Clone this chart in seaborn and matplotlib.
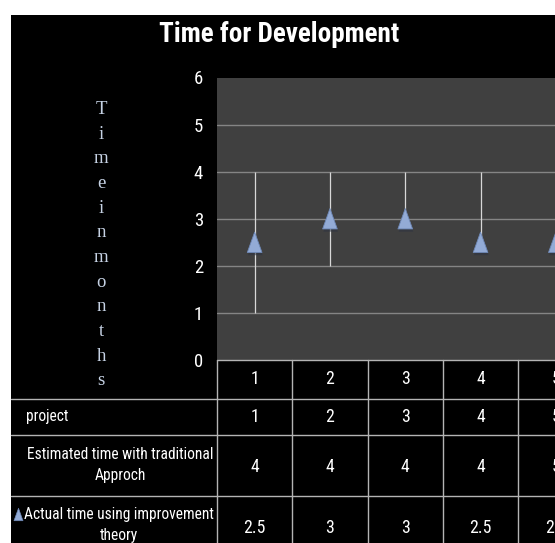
import numpy as np
import pandas as pd
import matplotlib
matplotlib.use("Agg")
import matplotlib.pyplot as plt
import matplotlib.patheffects as pe
from matplotlib import font_manager
from matplotlib.path import Path
from matplotlib.patches import Rectangle
from matplotlib.transforms import blended_transform_factory
import seaborn as sns

# ---- data ----
projects = [1, 2, 3, 4, 5]
estimated = [4, 4, 4, 4, 5]
actual = [2.5, 3, 3, 2.5, 2.5]
row_labels = ["project",
              "Estimated time with traditional\nApproch",
              "Actual time using improvement\ntheory"]
y_ticks = [0, 1, 2, 3, 4, 5, 6]
title = "Time for Development"
y_label = "Timeinmonths"

df = pd.DataFrame({"project": projects, "estimated": estimated, "actual": actual})
# high-low span across every series at each project
df["low"] = df[["project", "estimated", "actual"]].min(axis=1)
df["high"] = df[["project", "estimated", "actual"]].max(axis=1)

installed = {f.name for f in font_manager.fontManager.ttflist}
narrow = [n for n in ["Liberation Sans Narrow", "Roboto Condensed", "Open Sans Condensed",
                      "Noto Sans Condensed", "Liberation Sans"] if n in installed][:1]
FONT = narrow + ["DejaVu Sans"]

sns.set_style("dark")
plt.rcParams["font.family"] = FONT

W, H = 555, 543
fig = plt.figure(figsize=(W / 100, H / 100), dpi=100, facecolor="white")
fig.patches.append(Rectangle((11 / W, 0), 1, (H - 15) / H, transform=fig.transFigure,
                             facecolor="black", edgecolor="none", zorder=-5))

# plot area (wider than the canvas; last project sits on the right edge)
left_px, right_px, top_px, bottom_px = 217, 593.5, 77.5, 360
ax = fig.add_axes([left_px / W, (H - bottom_px) / H,
                   (right_px - left_px) / W, (bottom_px - top_px) / H])
ax.set_zorder(1)
ax.set_facecolor("#404040")
ax.set_xlim(0.5, 5.5)
ax.set_ylim(0, 6)
ax.set_yticks(y_ticks)
ax.set_yticklabels([str(t) for t in y_ticks], color="white", fontsize=13.5)
ax.tick_params(axis="y", length=0, pad=10)
ax.set_xticks([])
ax.grid(False)
for y in y_ticks[1:-1]:
    ax.axhline(y, color="#858585", lw=1.0, zorder=1)
for s in ax.spines.values():
    s.set_visible(False)

ax.vlines(df["project"], df["low"], df["high"], color="#d8d8d8", lw=0.9, zorder=2)

tri = Path([(-0.36, -0.5), (0.36, -0.5), (0.0, 0.5), (-0.36, -0.5)],
           [Path.MOVETO, Path.LINETO, Path.LINETO, Path.CLOSEPOLY])
sns.scatterplot(data=df, x="project", y="actual", marker=tri, s=215,
                color="#93abd6", edgecolor="#6f89b8", linewidth=0.6, ax=ax, zorder=3,
                legend=False)
for coll in ax.collections[1:]:
    coll.set_path_effects([pe.SimplePatchShadow(offset=(0.5, -2), alpha=0.55),
                           pe.Normal()])
ax.set_xlabel("")
ax.set_ylabel("")

# ---- data table beneath the plot ----
ax_h = bottom_px - top_px
rows_px = [0, 39, 75, 136, 200]
ry = [-r / ax_h for r in rows_px]
tr = blended_transform_factory(ax.transData, ax.transAxes)
line_c = "#b4b4b4"
label_left = (11 - left_px) / (right_px - left_px)

# horizontal rules
ax.plot([0, 1], [ry[0], ry[0]], transform=ax.transAxes, color=line_c, lw=1, clip_on=False)
for r in ry[1:4]:
    ax.plot([label_left, 1], [r, r], transform=ax.transAxes, color=line_c, lw=1, clip_on=False)
# vertical rules between project columns
for xb in np.arange(0.5, len(projects) + 1, 1.0):
    ax.plot([xb, xb], [ry[0], ry[-1]], transform=tr, color=line_c, lw=1, clip_on=False)

def fmt(v):
    return f"{v:g}"

row_values = [projects, projects, estimated, actual]
row_centres_px = [379.5, 417, 467, 528]
for vals, yc_px in zip(row_values, row_centres_px):
    yc = (bottom_px - yc_px) / ax_h
    for p, v in zip(projects, vals):
        ax.text(p, yc, fmt(v), transform=tr, ha="center", va="center",
                color="white", fontsize=12.8, clip_on=False)

def px_to_ax(xp, yp):
    return ((xp - left_px) / (right_px - left_px), (bottom_px - yp) / ax_h)

LBL = 11.2
x0, y0 = px_to_ax(26, 417)
ax.text(x0, y0, row_labels[0], transform=ax.transAxes, ha="left", va="center",
        color="white", fontsize=LBL, clip_on=False)
x0, y0 = px_to_ax(120, 465)
ax.text(x0, y0, row_labels[1], transform=ax.transAxes, ha="center", va="center",
        multialignment="center", color="white", fontsize=LBL, clip_on=False,
        linespacing=1.5)
x0, y0 = px_to_ax(119, 525)
ax.text(x0, y0, row_labels[2], transform=ax.transAxes, ha="center", va="center",
        multialignment="center", color="white", fontsize=LBL, clip_on=False,
        linespacing=1.5)
# legend key for the actual-time series
mx, my = px_to_ax(18, 514)
ax.scatter([mx], [my], transform=ax.transAxes, marker=tri, s=80, color="#93abd6",
           edgecolor="#6f89b8", linewidth=0.5, clip_on=False, zorder=4)

# ---- title and stacked axis label ----
fig.text(279 / W, (H - 42) / H, title, ha="center", va="baseline",
         color="white", fontsize=19.5, fontweight="bold", family=FONT)
fig.text(101 / W, (H - 101) / H, "\n".join(y_label), ha="center", va="top",
         color="#c6d2e4", fontsize=13.5, family=["Liberation Serif", "DejaVu Serif"],
         linespacing=1.59)

fig.savefig("out.png", dpi=100, facecolor=fig.get_facecolor())
